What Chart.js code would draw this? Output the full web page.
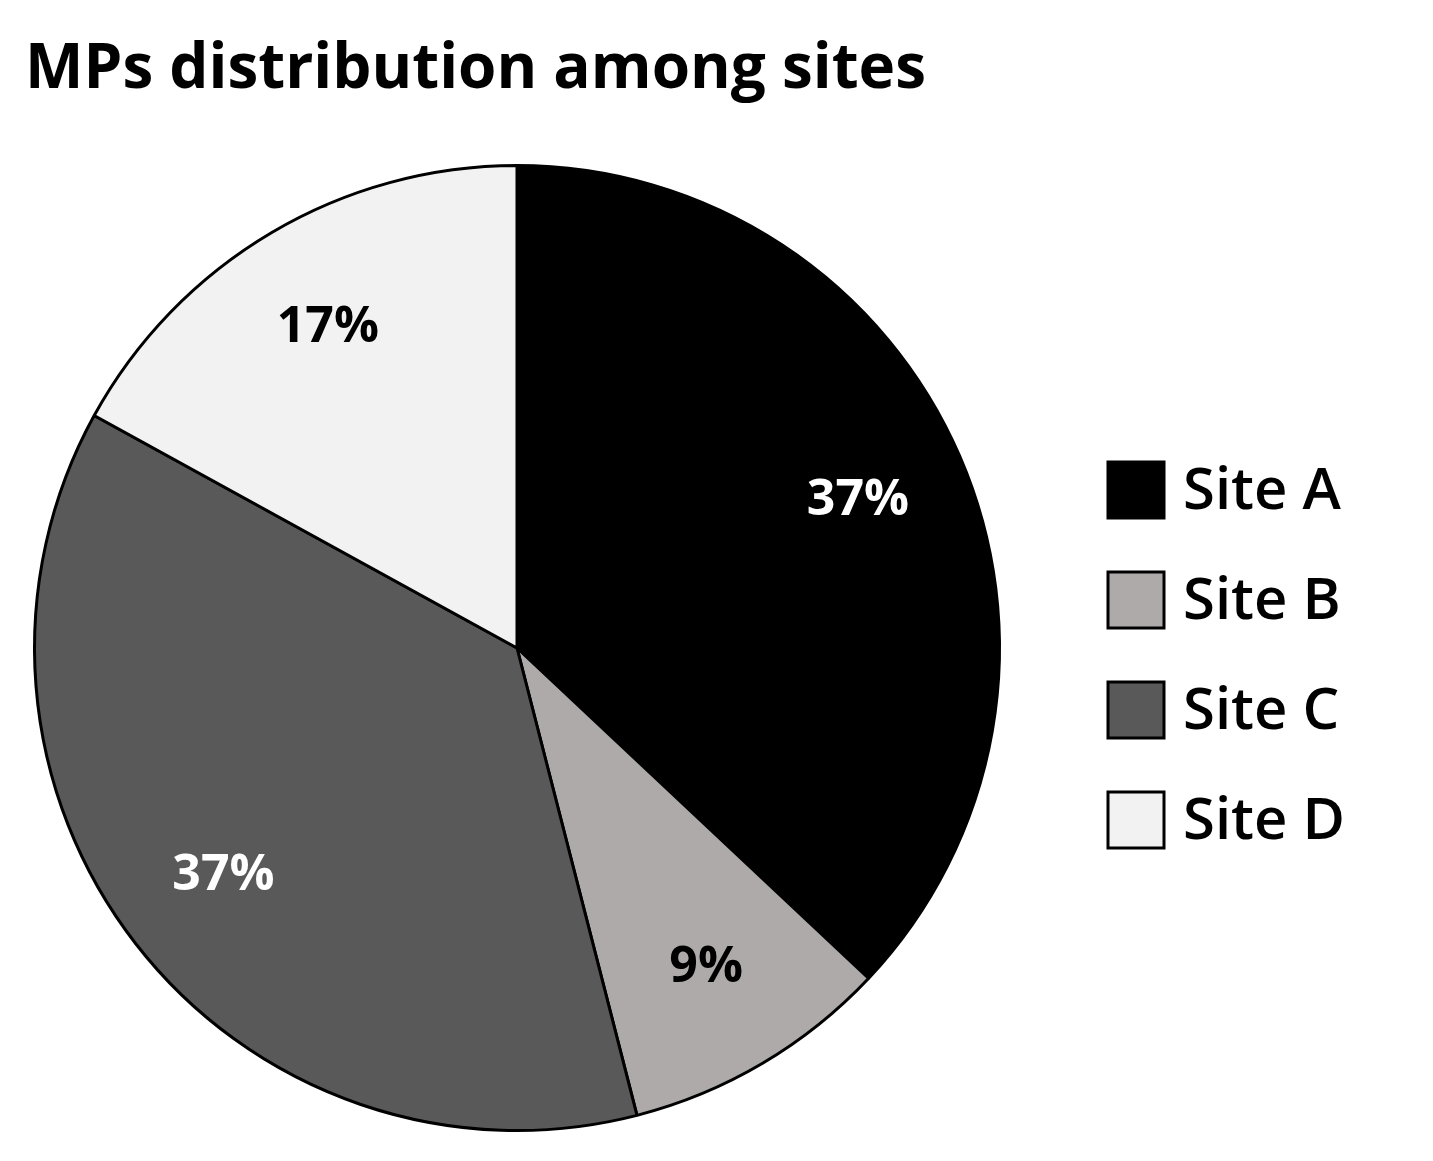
<!DOCTYPE html>
<html><head><meta charset="utf-8">
<script src="https://cdn.jsdelivr.net/npm/chart.js@4/dist/chart.umd.min.js"></script>
<style>html,body{margin:0;padding:0;background:#fff}#wrap{width:1433px;height:1161px;position:relative}</style>
</head><body><div id="wrap"><canvas id="c"></canvas></div>
<script>
const titleText = "MPs distribution among sites";
const categories = ["Site A", "Site B", "Site C", "Site D"];
const values = [37, 9, 37, 17];
const colors = ["#000000", "#aeaaaa", "#595959", "#f2f2f2"];
const labelColors = ["#ffffff", "#000000", "#ffffff", "#000000"];

const overlay = {
  id: 'overlay',
  afterDraw(chart) {
    const ctx = chart.ctx;
    ctx.save();
    ctx.fillStyle = '#000';
    ctx.font = 'bold 62px "Open Sans"';
    ctx.textBaseline = 'alphabetic';
    ctx.textAlign = 'left';
    ctx.fillText(titleText, 25, 88);
    const meta = chart.getDatasetMeta(0);
    ctx.font = 'bold 50px "Open Sans"';
    ctx.textAlign = 'center'; ctx.textBaseline = 'middle';
    meta.data.forEach((arc, i) => {
      const mid = (arc.startAngle + arc.endAngle) / 2;
      const r = arc.outerRadius * 0.77;
      ctx.fillStyle = labelColors[i];
      ctx.fillText(values[i] + '%', arc.x + Math.cos(mid) * r, arc.y + Math.sin(mid) * r);
    });
    ctx.textAlign = 'left';
    ctx.font = '600 58px "Open Sans"';
    categories.forEach((c, i) => {
      const y = 490 + i * 110;
      ctx.fillStyle = colors[i];
      ctx.fillRect(1108, y - 28, 56, 56);
      ctx.lineWidth = 3; ctx.strokeStyle = '#000';
      ctx.strokeRect(1108, y - 28, 56, 56);
      ctx.fillStyle = '#000';
      ctx.fillText(c, 1183, y + 2);
    });
    ctx.restore();
  }
};

new Chart(document.getElementById('c'), {
  type: 'pie',
  data: { labels: categories, datasets: [{ data: values, backgroundColor: colors, borderColor: '#000', borderWidth: 3 }] },
  options: {
    responsive: true, maintainAspectRatio: false, animation: false,
    layout: { padding: { left: 33, right: 432, top: 163, bottom: 28 } },
    plugins: { legend: { display: false }, tooltip: { enabled: false } }
  },
  plugins: [overlay]
});
</script></body></html>
